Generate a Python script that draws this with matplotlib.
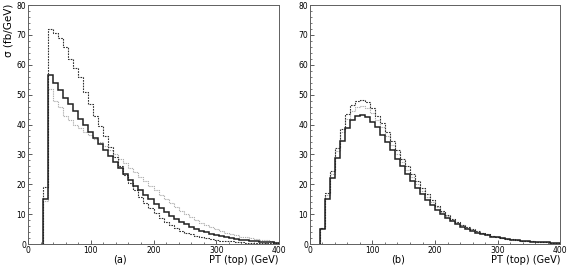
import numpy as np
import matplotlib
matplotlib.use('Agg')
import matplotlib.pyplot as plt
from matplotlib.ticker import MultipleLocator

# bin edges: 8 GeV bins
edges_a = np.arange(24, 401, 8)
edges_b = np.arange(16, 401, 8)

# panel (a)
a_solid = [15, 56.5, 54, 51.5, 49, 47, 44.5, 42, 40, 37.5, 35.5, 33.5, 31.5, 29.5, 27.5, 25.5,
           23.5, 21.5, 19.5, 18, 16.5, 15, 13.5, 12, 10.7, 9.5, 8.5, 7.5, 6.6, 5.8, 5.1,
           4.5, 3.9, 3.4, 3.0, 2.6, 2.3, 2.0, 1.7, 1.5, 1.3, 1.1, 0.95, 0.8, 0.7, 0.6, 0.5]
a_dash = [19, 72, 70.5, 69, 66, 62, 59, 56, 51, 47, 43, 39.5, 36, 32.5, 29, 26, 23, 20.5, 18,
          15.8, 13.8, 12, 10.3, 8.8, 7.5, 6.3, 5.3, 4.5, 3.8, 3.2, 2.7, 2.3, 1.9, 1.6, 1.35,
          1.15, 1.0, 0.85, 0.72, 0.6, 0.5, 0.42, 0.36, 0.3, 0.25, 0.2, 0.17]
a_grey = [14.5, 52, 48, 46, 43, 41.5, 40, 38.7, 37.5, 36.4, 35.2, 34, 32.8, 31.5, 30, 28.5,
          27, 25.5, 24, 22.5, 21, 19.5, 18, 16.5, 15, 13.7, 12.4, 11.2, 10, 9, 8, 7.1, 6.3,
          5.6, 4.9, 4.3, 3.8, 3.3, 2.9, 2.5, 2.2, 1.9, 1.6, 1.4, 1.2, 1.0, 0.8]

# panel (b)
b_solid = [5.1, 14.9, 22, 28.9, 34.6, 38.7, 41.5, 42.8, 43.2, 42.4, 41, 39.3, 36.5, 34, 31.5,
           28.5, 26, 23.5, 21, 18.8, 16.8, 14.8, 13, 11.5, 10, 8.8, 7.6, 6.6, 5.8, 5, 4.4,
           3.8, 3.3, 2.9, 2.5, 2.2, 1.9, 1.65, 1.45, 1.25, 1.1, 0.95, 0.82, 0.7, 0.6, 0.52,
           0.45, 0.4]
b_dash = [5.5, 17, 24.5, 32, 38.5, 43.5, 46.5, 48, 48.2, 47.5, 45.5, 43, 40.5, 37.5, 34.5,
          31.5, 28.5, 26, 23.3, 21, 18.7, 16.6, 14.6, 12.8, 11.2, 9.8, 8.5, 7.4, 6.4, 5.6,
          4.9, 4.2, 3.7, 3.2, 2.8, 2.4, 2.1, 1.8, 1.55, 1.35, 1.17, 1.0, 0.87, 0.75, 0.65,
          0.56, 0.48, 0.42]
b_grey = [5.2, 16.5, 23.5, 31, 37.5, 42, 44.5, 46, 46.2, 45.5, 44, 41.5, 39, 36, 33, 30,
          27.3, 24.8, 22.3, 20, 17.8, 15.8, 14, 12.3, 10.8, 9.4, 8.2, 7.1, 6.2, 5.4, 4.7,
          4.1, 3.6, 3.1, 2.7, 2.35, 2.05, 1.75, 1.5, 1.3, 1.13, 0.98, 0.85, 0.73, 0.63,
          0.55, 0.47, 0.41]

plt.rcParams['font.family'] = 'DejaVu Sans'
fig = plt.figure(figsize=(5.67, 2.66), dpi=100)
ax1 = fig.add_axes([0.0494, 0.0827, 0.4427, 0.8985])
ax2 = fig.add_axes([0.5467, 0.0827, 0.4410, 0.8985])


def panel(ax, edges, solid, dash, grey):
    ax.stairs(grey, edges, color='#b0b0b0', lw=0.8, linestyle=(0, (1.2, 0.8)))
    ax.stairs(dash, edges, color='#303030', lw=0.8, linestyle=(0, (1.5, 1.0)))
    ax.stairs(solid, edges, color='#202020', lw=1.1)
    ax.set_xlim(0, 400)
    ax.set_ylim(0, 80)
    ax.xaxis.set_major_locator(MultipleLocator(100))
    ax.xaxis.set_minor_locator(MultipleLocator(20))
    ax.yaxis.set_major_locator(MultipleLocator(10))
    ax.yaxis.set_minor_locator(MultipleLocator(2))
    ax.tick_params(which='both', direction='in', labelsize=5.5, pad=1.5, top=False, right=False,
                   color='#404040')
    ax.tick_params(which='major', length=3, width=0.6)
    ax.tick_params(which='minor', length=1.6, width=0.5)
    for s in ax.spines.values():
        s.set_linewidth(0.7)
        s.set_color('#606060')


panel(ax1, edges_a, a_solid, a_dash, a_grey)
panel(ax2, edges_b, b_solid, b_dash, b_grey)

fig.text(0.006, 0.985, 'σ (fb/GeV)', rotation=90, ha='left', va='top', fontsize=7.5)
fig.text(0.212, 0.004, '(a)', ha='center', va='bottom', fontsize=7)
fig.text(0.702, 0.004, '(b)', ha='center', va='bottom', fontsize=7)
fig.text(0.492, 0.004, 'PT (top) (GeV)', ha='right', va='bottom', fontsize=7)
fig.text(0.988, 0.004, 'PT (top) (GeV)', ha='right', va='bottom', fontsize=7)

fig.savefig('out.png', dpi=100)
